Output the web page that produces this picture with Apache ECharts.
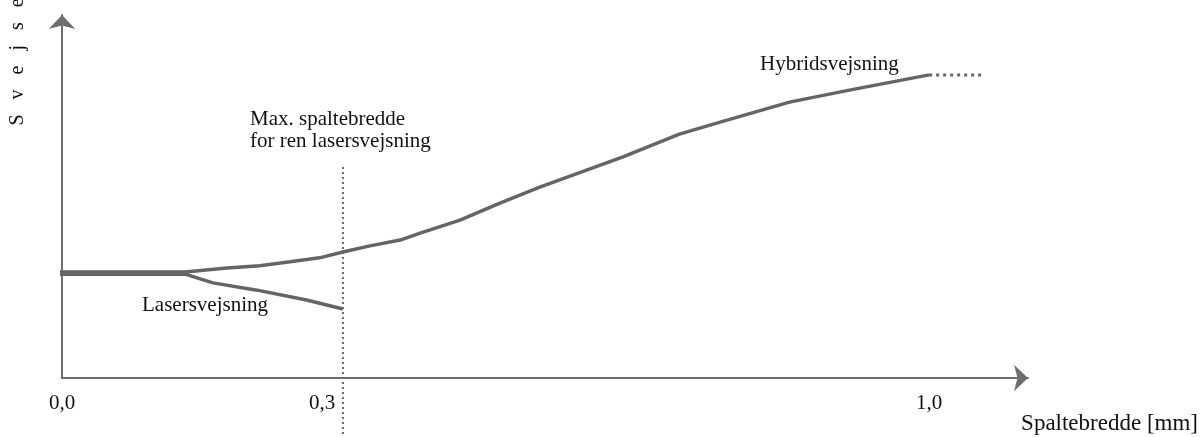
<!DOCTYPE html>
<html>
<head>
<meta charset="utf-8">
<script src="https://cdn.jsdelivr.net/npm/echarts@6/dist/echarts.min.js"></script>
<style>html,body{margin:0;padding:0;background:#fff}#c{width:1202px;height:437px}</style>
</head>
<body>
<div id="c"></div>
<script>
// Hybrid welding curve (gap width mm, relative welding speed)
const hybridX = [-0.007, 0.142, 0.19, 0.228, 0.263, 0.297, 0.324, 0.355, 0.39, 0.413, 0.459, 0.505, 0.551, 0.589, 0.647, 0.712, 0.759, 0.839, 0.908, 1.0];
const hybridY = [29.2, 29.2, 30.3, 30.9, 32.0, 33.1, 34.7, 36.4, 38.0, 39.9, 43.5, 48.2, 52.6, 55.9, 60.9, 67.2, 70.5, 76.0, 79.3, 83.5];
// Extrapolated part (dotted)
const hybridExtX = [1.0, 1.062];
const hybridExtY = [83.5, 83.5];
// Laser welding curve
const laserX = [-0.007, 0.142, 0.174, 0.225, 0.282, 0.324];
const laserY = [28.6, 28.6, 26.2, 24.2, 21.5, 19.0];
// Max gap width for pure laser welding (vertical dotted line)
const maxGapX = [0.324, 0.324];
const maxGapY = [58.1, -16.5];
// Axis tick labels
const tickValues = [0, 0.3, 1.0];
const tickLabels = ['0,0', '0,3', '1,0'];

const pairs = (xs, ys) => xs.map((x, i) => [x, ys[i]]);
const serif = '"Liberation Serif", "Times New Roman", serif';
const lineColor = '#656565';

const chart = echarts.init(document.getElementById('c'), null, {renderer: 'canvas'});
chart.setOption({
  animation: false,
  grid: {left: 62, right: 174, top: 15, bottom: 59},
  xAxis: {
    type: 'value', min: 0, max: 1.114,
    splitLine: {show: false},
    axisTick: {show: false},
    axisLine: {show: true, onZero: false, symbol: ['none', 'arrow'], symbolSize: [20, 14],
      lineStyle: {color: '#6e6e6e', width: 2}},
    axisLabel: {
      customValues: tickValues,
      margin: 15,
      color: '#111',
      fontFamily: serif,
      fontSize: 21,
      formatter: v => { const i = tickValues.findIndex(t => Math.abs(t - v) < 1e-6); return i >= 0 ? tickLabels[i] : ''; }
    }
  },
  yAxis: {
    type: 'value', min: 0, max: 100,
    splitLine: {show: false},
    axisTick: {show: false},
    axisLabel: {show: false},
    axisLine: {show: true, onZero: false, symbol: ['none', 'arrow'], symbolSize: [20, 14],
      lineStyle: {color: '#6e6e6e', width: 2}}
  },
  series: [
    {type: 'line', data: pairs(maxGapX, maxGapY), clip: false, symbol: 'none', silent: true,
      lineStyle: {color: '#6a6a6a', width: 2, type: [2, 3]}},
    {type: 'line', data: pairs(laserX, laserY), clip: false, symbol: 'none',
      lineStyle: {color: lineColor, width: 3.5}},
    {type: 'line', data: pairs(hybridX, hybridY), clip: false, symbol: 'none',
      lineStyle: {color: lineColor, width: 3.5}},
    {type: 'line', data: pairs(hybridExtX, hybridExtY), clip: false, symbol: 'none',
      lineStyle: {color: lineColor, width: 3, type: [3, 4]}}
  ],
  graphic: [
    {type: 'text', x: 18, y: 62, rotation: Math.PI / 2,
      style: {text: 'S   v   e   j   s   e', font: '20px ' + serif, fill: '#111', textAlign: 'center', textVerticalAlign: 'middle'}},
    {type: 'text', x: 250, y: 119,
      style: {text: 'Max. spaltebredde', font: '21px ' + serif, fill: '#111', textAlign: 'left', textVerticalAlign: 'middle'}},
    {type: 'text', x: 250, y: 141,
      style: {text: 'for ren lasersvejsning', font: '21px ' + serif, fill: '#111', textAlign: 'left', textVerticalAlign: 'middle'}},
    {type: 'text', x: 142, y: 305,
      style: {text: 'Lasersvejsning', font: '21px ' + serif, fill: '#111', textAlign: 'left', textVerticalAlign: 'middle'}},
    {type: 'text', x: 760, y: 64,
      style: {text: 'Hybridsvejsning', font: '21px ' + serif, fill: '#111', textAlign: 'left', textVerticalAlign: 'middle'}},
    {type: 'text', x: 1198, y: 424,
      style: {text: 'Spaltebredde [mm]', font: '23px ' + serif, fill: '#111', textAlign: 'right', textVerticalAlign: 'middle'}}
  ]
});
</script>
</body>
</html>
